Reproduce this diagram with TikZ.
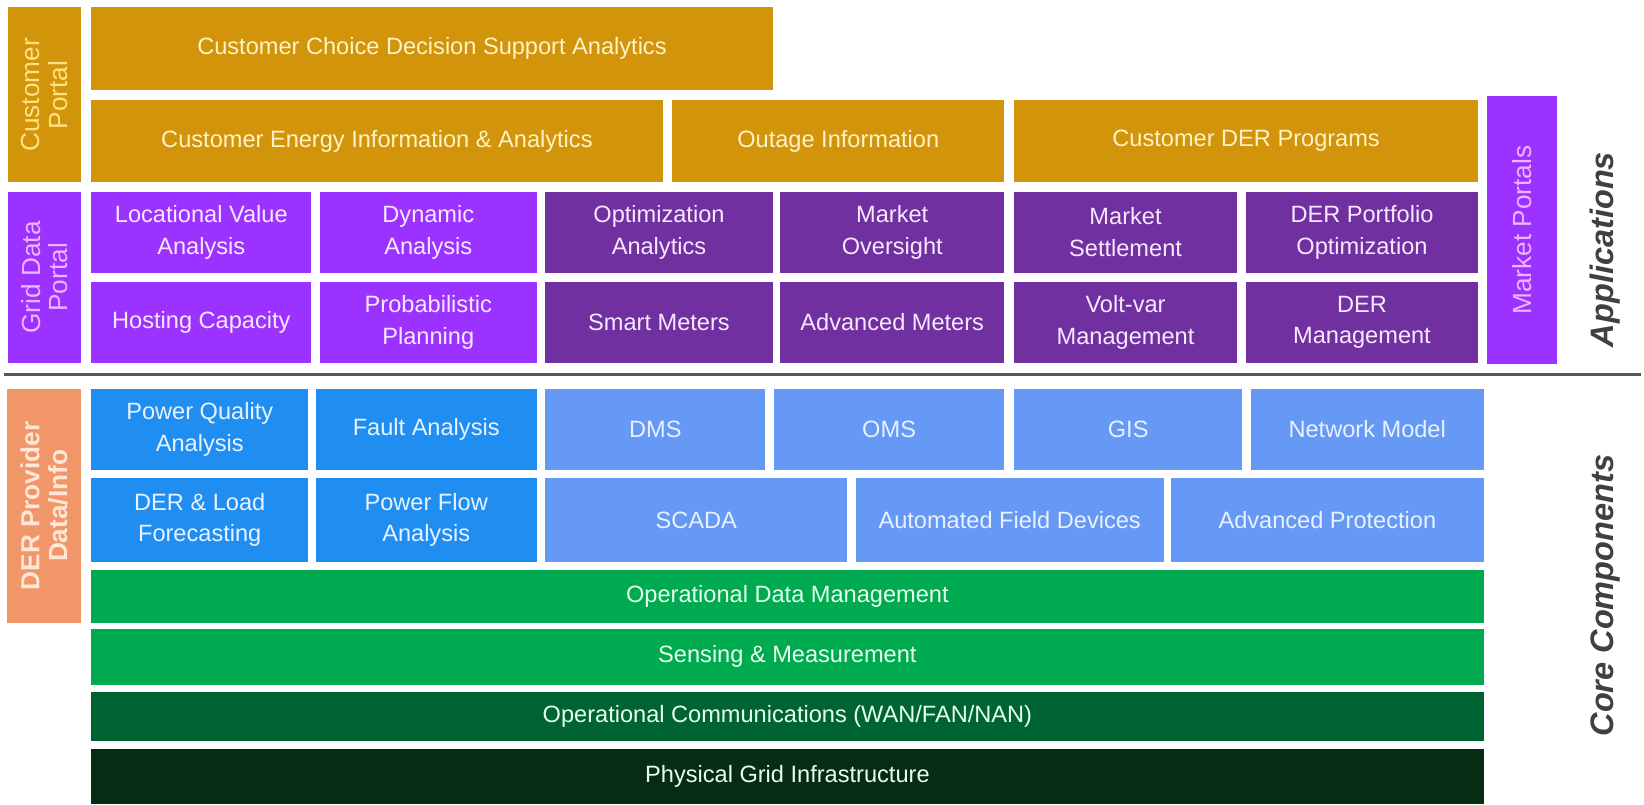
\documentclass[tikz,border=0pt]{standalone}
\usepackage{fontspec}
\setmainfont{Liberation Sans}
\begin{document}
\definecolor{orng}{RGB}{210,148,10}
\definecolor{orngtxt}{RGB}{255,242,196}
\definecolor{cplbl}{RGB}{255,226,130}
\definecolor{pbright}{RGB}{155,50,255}
\definecolor{pdark}{RGB}{112,48,160}
\definecolor{ptxt}{RGB}{248,232,255}
\definecolor{plbl}{RGB}{238,180,255}
\definecolor{bbright}{RGB}{32,142,240}
\definecolor{blight}{RGB}{102,152,246}
\definecolor{btxt}{RGB}{232,242,255}
\definecolor{derfill}{RGB}{240,150,104}
\definecolor{dertxt}{RGB}{255,230,214}
\definecolor{grn}{RGB}{0,170,80}
\definecolor{grnd}{RGB}{0,100,50}
\definecolor{grndd}{RGB}{6,44,20}
\definecolor{gtxt}{RGB}{228,255,236}
\definecolor{sidetxt}{RGB}{64,64,64}
\definecolor{sepcol}{RGB}{88,88,88}
\begin{tikzpicture}[x=1pt,y=-1pt,
  blkbase/.style={inner sep=0pt,outer sep=0pt,draw=none,align=center,
    font=\fontsize{22.5}{30}\selectfont},
  orangebox/.style={blkbase,fill=orng,text=orngtxt},
  pbbox/.style={blkbase,fill=pbright,text=ptxt},
  pdbox/.style={blkbase,fill=pdark,text=ptxt},
  bbbox/.style={blkbase,fill=bbright,text=btxt},
  blbox/.style={blkbase,fill=blight,text=btxt},
  gbox/.style={blkbase,fill=grn,text=gtxt},
  gdbox/.style={blkbase,fill=grnd,text=gtxt},
  gddbox/.style={blkbase,fill=grndd,text=gtxt},
  lbltxt/.style={rotate=90,align=center,inner sep=0pt,font=\fontsize{25}{26.5}\selectfont},
  sidelbl/.style={rotate=90,anchor=base,inner sep=0pt,text=sidetxt,
    font=\fontsize{31}{31}\selectfont\bfseries\itshape}
]
\newcommand\blk[7]{\node[#6,anchor=north west,minimum width={(#4-#2)*1pt},minimum height={(#5-#3)*1pt}] (#1) at (#2,#3) {#7};}
\useasboundingbox (0,0) rectangle (1568,767);
\fill[white] (0,0) rectangle (1568,767);

% Customer portal
\blk{cportal}{8}{7}{77}{174}{orangebox}{}
\node[lbltxt,text=cplbl] (cportaltxt) at (cportal.center) {Customer\\Portal};
\blk{ccdsa}{87}{7}{737}{86}{orangebox}{Customer Choice Decision Support Analytics}
\blk{ceia}{87}{95}{632}{174}{orangebox}{Customer Energy Information \& Analytics}
\blk{outage}{641}{95}{958}{174}{orangebox}{Outage Information}
\blk{cder}{967}{95}{1410}{174}{orangebox}{Customer DER Programs}

% Grid data portal
\blk{gdportal}{8}{183}{77}{346}{pbbox}{}
\node[lbltxt,text=plbl] (gdportaltxt) at (gdportal.center) {Grid Data\\Portal};
\blk{lva}{87}{183}{297}{260}{pbbox}{Locational Value\\Analysis}
\blk{dyn}{305}{183}{512}{260}{pbbox}{Dynamic\\Analysis}
\blk{opt}{520}{183}{737}{260}{pdbox}{Optimization\\Analytics}
\blk{mo}{744}{183}{958}{260}{pdbox}{Market\\Oversight}
\blk{ms}{967}{183}{1180}{260}{pdbox}{Market\\Settlement}
\blk{dpo}{1188}{183}{1410}{260}{pdbox}{DER Portfolio\\Optimization}
\blk{hc}{87}{269}{297}{346}{pbbox}{Hosting Capacity}
\blk{pp}{305}{269}{512}{346}{pbbox}{Probabilistic\\Planning}
\blk{sm}{520}{269}{737}{346}{pdbox}{Smart Meters}
\blk{am}{744}{269}{958}{346}{pdbox}{Advanced Meters}
\blk{vv}{967}{269}{1180}{346}{pdbox}{Volt-var\\Management}
\blk{derm}{1188}{269}{1410}{346}{pdbox}{DER\\Management}

% Market portals
\blk{mportal}{1418}{92}{1485}{347}{pbbox}{}
\node[lbltxt,text=plbl] (mportaltxt) at (mportal.center) {Market Portals};

\node[sidelbl] (apps) at (1539,238) {Applications};

% separator
\coordinate (sepL) at (4,357);
\coordinate (sepR) at (1565,357);
\draw[line width=3pt,sepcol] (sepL) -- (sepR);

% DER provider
\blk{derprov}{7}{371}{77}{594}{blkbase,fill=derfill}{}
\node[lbltxt,text=dertxt,font=\fontsize{25}{26.5}\selectfont\bfseries] (derprovtxt) at (derprov.center) {DER Provider\\Data/Info};

\blk{pqa}{87}{371}{294}{448}{bbbox}{Power Quality\\Analysis}
\blk{fa}{301}{371}{512}{448}{bbbox}{Fault Analysis}
\blk{dms}{520}{371}{730}{448}{blbox}{DMS}
\blk{oms}{738}{371}{958}{448}{blbox}{OMS}
\blk{gis}{967}{371}{1185}{448}{blbox}{GIS}
\blk{nm}{1193}{371}{1415}{448}{blbox}{Network Model}
\blk{dlf}{87}{456}{294}{536}{bbbox}{DER \& Load\\Forecasting}
\blk{pfa}{301}{456}{512}{536}{bbbox}{Power Flow\\Analysis}
\blk{scada}{520}{456}{808}{536}{blbox}{SCADA}
\blk{afd}{816}{456}{1110}{536}{blbox}{Automated Field Devices}
\blk{ap}{1117}{456}{1415}{536}{blbox}{Advanced Protection}

\blk{odm}{87}{544}{1415}{594}{gbox}{Operational Data Management}
\blk{sam}{87}{600}{1415}{653}{gbox}{Sensing \& Measurement}
\blk{ocomm}{87}{660}{1415}{707}{gdbox}{Operational Communications (WAN/FAN/NAN)}
\blk{pgi}{87}{714}{1415}{767}{gddbox}{Physical Grid Infrastructure}

\node[sidelbl] (core) at (1539,568) {Core Components};
\end{tikzpicture}
\end{document}
